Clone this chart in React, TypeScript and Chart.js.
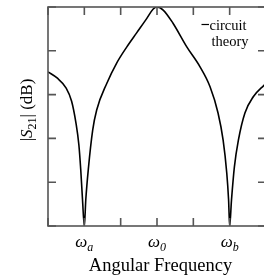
import { useEffect, useRef } from "react";
import { Chart, registerables } from "chart.js";

Chart.register(...registerables);

// Angular frequency (normalised: ωa = 1, ω0 = 3, ωb = 5)
const freq = [
  0, 0.25, 0.5, 0.65, 0.77, 0.85, 0.9, 0.95, 1.0, 1.04, 1.11, 1.23, 1.34, 1.62,
  1.89, 2.17, 2.44, 2.72, 2.89, 3.0, 3.17, 3.44, 3.82, 4.18, 4.46, 4.68, 4.82,
  4.92, 4.97, 5.0, 5.05, 5.13, 5.24, 5.42, 5.65, 5.93, 6.0,
];
// |S21| (dB), arbitrary units (0 = bottom, 5 = top)
const s21dB = [
  3.52, 3.38, 3.15, 2.85, 2.35, 1.85, 1.3, 0.6, 0, 0.6, 1.3, 2.19, 2.65, 3.26,
  3.72, 4.09, 4.41, 4.74, 4.95, 5.0, 4.93, 4.63, 4.09, 3.64, 3.18, 2.58, 1.96,
  1.21, 0.6, 0, 0.59, 1.35, 1.96, 2.58, 2.95, 3.2, 3.25,
];
const xTickValues = [0, 1, 2, 3, 4, 5, 6];
const yTickValues = [0, 1, 2, 3, 4, 5];
const xTickSubs = ["", "a", "", "0", "", "b", ""];
const xTitle = "Angular Frequency";
const legendLines = ["circuit", "theory"];

const SERIF = "'Liberation Serif', 'Times New Roman', serif";

export default function App() {
  const ref = useRef<HTMLCanvasElement>(null);
  useEffect(() => {
    const canvas = ref.current!;
    const decor = {
      id: "decor",
      afterDraw(chart: any) {
        const { ctx, chartArea } = chart;
        const { left, right, top, bottom } = chartArea;
        const xs = chart.scales.x;
        const ys = chart.scales.y;
        ctx.save();
        ctx.strokeStyle = "#555";
        ctx.lineWidth = 1.6;
        ctx.strokeRect(left, top, right - left, bottom - top);
        ctx.beginPath();
        const tl = 8;
        xTickValues.forEach((v) => {
          const px = xs.getPixelForValue(v);
          ctx.moveTo(px, bottom);
          ctx.lineTo(px, bottom - tl);
          ctx.moveTo(px, top);
          ctx.lineTo(px, top + tl);
        });
        yTickValues.forEach((v) => {
          const py = ys.getPixelForValue(v);
          ctx.moveTo(left, py);
          ctx.lineTo(left + tl, py);
          ctx.moveTo(right, py);
          ctx.lineTo(right - tl, py);
        });
        ctx.stroke();

        ctx.fillStyle = "#000";
        ctx.textBaseline = "alphabetic";
        ctx.textAlign = "left";
        // x tick labels
        xTickValues.forEach((v, i) => {
          const sub = xTickSubs[i];
          if (!sub) return;
          const px = xs.getPixelForValue(v);
          ctx.font = `italic 17px ${SERIF}`;
          const w1 = ctx.measureText("ω").width;
          ctx.font = `italic 12px ${SERIF}`;
          const w2 = ctx.measureText(sub).width;
          const x0 = px - (w1 + w2) / 2;
          ctx.font = `italic 17px ${SERIF}`;
          ctx.fillText("ω", x0, 247);
          ctx.font = `italic 12px ${SERIF}`;
          ctx.fillText(sub, x0 + w1, 251);
        });
        // x title
        ctx.font = `18.5px ${SERIF}`;
        ctx.textAlign = "center";
        ctx.fillText(xTitle, 160.5, 271);

        // y title |S21| (dB)
        ctx.save();
        ctx.translate(32, 110);
        ctx.rotate(-Math.PI / 2);
        ctx.textAlign = "left";
        const parts = [
          { t: "|", f: `17px ${SERIF}`, dy: 0 },
          { t: "S", f: `italic 17px ${SERIF}`, dy: 0 },
          { t: "21", f: `12px ${SERIF}`, dy: 3.5 },
          { t: "| (dB)", f: `17px ${SERIF}`, dy: 0 },
        ];
        let total = 0;
        parts.forEach((p) => {
          ctx.font = p.f;
          total += ctx.measureText(p.t).width;
        });
        let cx = -total / 2;
        parts.forEach((p) => {
          ctx.font = p.f;
          ctx.fillText(p.t, cx, p.dy);
          cx += ctx.measureText(p.t).width;
        });
        ctx.restore();

        // legend
        ctx.strokeStyle = "#000";
        ctx.lineWidth = 1.2;
        ctx.beginPath();
        ctx.moveTo(201.5, 24.5);
        ctx.lineTo(209, 24.5);
        ctx.stroke();
        ctx.font = `14.5px ${SERIF}`;
        ctx.textAlign = "left";
        ctx.fillText(legendLines[0], 209.5, 29.5);
        ctx.fillText(legendLines[1], 211.5, 46);
        ctx.restore();
      },
    };
    const chart = new Chart(canvas, {
      type: "line",
      data: {
        datasets: [
          {
            data: freq.map((x, i) => ({ x, y: s21dB[i] })),
            borderColor: "#000",
            borderWidth: 1.6,
            pointRadius: 0,
            fill: false,
            cubicInterpolationMode: "monotone",
          },
        ],
      },
      options: {
        animation: false,
        responsive: false,
        events: [],
        layout: { padding: { left: 48, right: 6, top: 7, bottom: 51 } },
        plugins: { legend: { display: false }, tooltip: { enabled: false } },
        scales: {
          x: { type: "linear", min: 0, max: 6, display: false },
          y: { min: 0, max: 5, display: false },
        },
      },
      plugins: [decor],
    } as any);
    return () => chart.destroy();
  }, []);
  return (
    <div
      style={{
        position: "fixed",
        left: 0,
        top: 0,
        width: 264,
        height: 277,
        overflow: "hidden",
        background: "#fff",
      }}
    >
      <canvas
        ref={ref}
        width={272}
        height={277}
        style={{ display: "block", width: 272, height: 277 }}
      />
    </div>
  );
}
